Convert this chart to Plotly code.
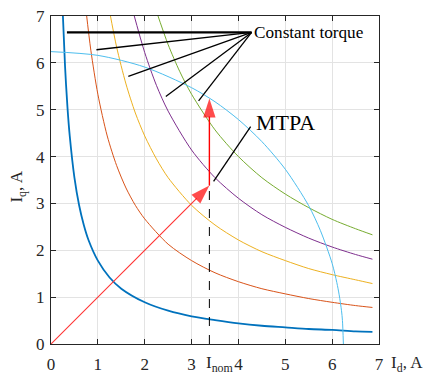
import plotly.graph_objects as go

# ---- data ----
# constant-torque curves (Id, Iq) samples
blue_id = [0.25, 0.3, 0.35, 0.4, 0.5, 0.6, 0.7, 0.8, 1.0, 1.25, 1.5, 2.0, 2.5, 3.0, 3.5, 4.0, 4.5, 5.0, 5.5, 6.0, 6.5, 6.86]
blue_iq = [7.1, 5.92, 5.07, 4.44, 3.55, 2.96, 2.54, 2.22, 1.78, 1.42, 1.18, 0.89, 0.71, 0.59, 0.51, 0.44, 0.39, 0.355, 0.32, 0.30, 0.27, 0.26]

orange_id = [0.75, 0.85, 1.0, 1.2, 1.4, 1.6, 1.8, 2.0, 2.5, 3.0, 3.5, 4.0, 4.5, 5.0, 5.5, 6.0, 6.5, 6.86]
orange_iq = [7.1, 6.27, 5.33, 4.44, 3.81, 3.33, 2.96, 2.67, 2.13, 1.78, 1.52, 1.33, 1.18, 1.07, 0.97, 0.89, 0.82, 0.78]

yellow_id = [1.25, 1.4, 1.6, 1.8, 2.0, 2.25, 2.5, 3.0, 3.5, 4.0, 4.5, 5.0, 5.5, 6.0, 6.5, 6.86]
yellow_iq = [7.1, 6.34, 5.55, 4.93, 4.44, 3.95, 3.55, 2.96, 2.54, 2.22, 1.97, 1.78, 1.61, 1.48, 1.37, 1.29]

purple_id = [1.75, 2.0, 2.25, 2.5, 3.0, 3.5, 4.0, 4.5, 5.0, 5.5, 6.0, 6.5, 6.86]
purple_iq = [7.1, 6.22, 5.52, 4.97, 4.14, 3.55, 3.11, 2.76, 2.49, 2.26, 2.07, 1.91, 1.81]

green_id = [2.25, 2.5, 2.75, 3.0, 3.5, 4.0, 4.5, 5.0, 5.5, 6.0, 6.5, 6.86]
green_iq = [7.1, 6.39, 5.81, 5.33, 4.57, 4.0, 3.55, 3.2, 2.91, 2.66, 2.46, 2.33]

# current limit circle
circle_id = [0, 1, 2, 3, 3.5, 4, 4.5, 5, 5.5, 5.75, 6.0, 6.1, 6.15, 6.2, 6.22, 6.24]
circle_iq = [6.24, 6.16, 5.91, 5.47, 5.17, 4.79, 4.32, 3.73, 2.95, 2.42, 1.72, 1.31, 1.05, 0.71, 0.5, 0.0]

# MTPA path and nominal current
i_nom = 3.38
mtpa_id = [0, 3.38]
mtpa_iq = [0, 3.38]
step_id = [3.38, 3.38]
step_iq = [3.38, 5.24]

# label pointers
ct_label = (4.28, 6.65)
ct_targets = [(0.34, 6.65), (0.97, 6.28), (1.65, 5.71), (2.45, 5.28), (3.15, 5.19)]
mtpa_label = (4.26, 4.64)
mtpa_target = (3.47, 3.47)

x_ticks = [0, 1, 2, 3, 4, 5, 6, 7]
y_ticks = [0, 1, 2, 3, 4, 5, 6, 7]

colors = ["#0072BD", "#D95319", "#EDB120", "#7E2F8E", "#77AC30", "#4DBEEE"]
SERIF = "Liberation Serif, Times New Roman, serif"

fig = go.Figure()

curves = [(blue_id, blue_iq, 1.8), (orange_id, orange_iq, 1.0), (yellow_id, yellow_iq, 1.0),
          (purple_id, purple_iq, 1.0), (green_id, green_iq, 1.0), (circle_id, circle_iq, 1.0)]
for (xs, ys, w), c in zip(curves, colors):
    fig.add_trace(go.Scatter(x=xs, y=ys, mode="lines",
                             line=dict(color=c, width=w, shape="spline", smoothing=0.8),
                             hoverinfo="skip", showlegend=False))

# dashed nominal line
fig.add_trace(go.Scatter(x=[i_nom, i_nom], y=[0, mtpa_iq[-1]], mode="lines",
                         line=dict(color="black", width=1, dash="dash"), showlegend=False))

# red arrows
fig.add_trace(go.Scatter(x=mtpa_id, y=mtpa_iq, mode="lines+markers",
                         line=dict(color="#FF3333", width=1.1),
                         marker=dict(symbol="arrow", size=[0, 20], angleref="previous",
                                     color="#FF0000", line=dict(width=0)),
                         showlegend=False))
fig.add_trace(go.Scatter(x=step_id, y=step_iq, mode="lines+markers",
                         line=dict(color="#FF0000", width=1.4),
                         marker=dict(symbol="arrow", size=[0, 20], angleref="previous",
                                     color="#FF0000", line=dict(width=0)),
                         showlegend=False))

# pointer lines
for i, (tx, ty) in enumerate(ct_targets):
    fig.add_trace(go.Scatter(x=[ct_label[0], tx], y=[ct_label[1], ty], mode="lines",
                             line=dict(color="black", width=2.2 if i == 0 else 1.3),
                             showlegend=False))
fig.add_trace(go.Scatter(x=[mtpa_label[0], mtpa_target[0]], y=[mtpa_label[1], mtpa_target[1]],
                         mode="lines", line=dict(color="black", width=1.3), showlegend=False))

fig.add_annotation(x=ct_label[0], y=ct_label[1], text="Constant torque", showarrow=False,
                   xanchor="left", yanchor="middle", xshift=0,
                   font=dict(family=SERIF, size=17.2, color="black"))
fig.add_annotation(x=mtpa_label[0] + 0.08, y=4.72, text="MTPA", showarrow=False,
                   xanchor="left", yanchor="middle",
                   font=dict(family=SERIF, size=22, color="black"))

# axis labels
fig.add_annotation(x=i_nom, y=0, yref="y", text="I<sub>nom</sub>", showarrow=False,
                   xanchor="left", yanchor="top", yshift=-7, xshift=-5,
                   font=dict(family=SERIF, size=17, color="#262626"))
fig.add_annotation(xref="paper", yref="paper", x=1.0, y=0, text="I<sub>d</sub>, A", showarrow=False,
                   xanchor="left", yanchor="top", yshift=-7, xshift=10,
                   font=dict(family=SERIF, size=17, color="#262626"))
fig.add_annotation(xref="paper", yref="paper", x=0, y=0.48, text="I<sub>q</sub>, A", showarrow=False,
                   textangle=-90, xanchor="center", yanchor="middle", xshift=-33,
                   font=dict(family=SERIF, size=17, color="#262626"))

axis_common = dict(range=[0, 7], showgrid=True, gridcolor="#E3E3E3", gridwidth=1,
                   showline=True, linecolor="#262626", linewidth=1, mirror="ticks",
                   ticks="inside", ticklen=5, tickcolor="#262626", zeroline=False,
                   automargin=False,
                   tickfont=dict(family=SERIF, size=17, color="#262626"))
fig.update_xaxes(tickvals=x_ticks, ticktext=[str(v) for v in x_ticks], ticklabelstandoff=5, **axis_common)
fig.update_yaxes(tickvals=y_ticks, ticktext=[str(v) for v in y_ticks], ticklabelstandoff=2, **axis_common)

fig.update_layout(width=427, height=374, margin=dict(l=51, r=48, t=16, b=30),
                  paper_bgcolor="white", plot_bgcolor="white", showlegend=False)

fig.write_html("out.html", config={"displayModeBar": False},
               post_script="document.body.style.margin='0';document.body.style.overflow='hidden';")
